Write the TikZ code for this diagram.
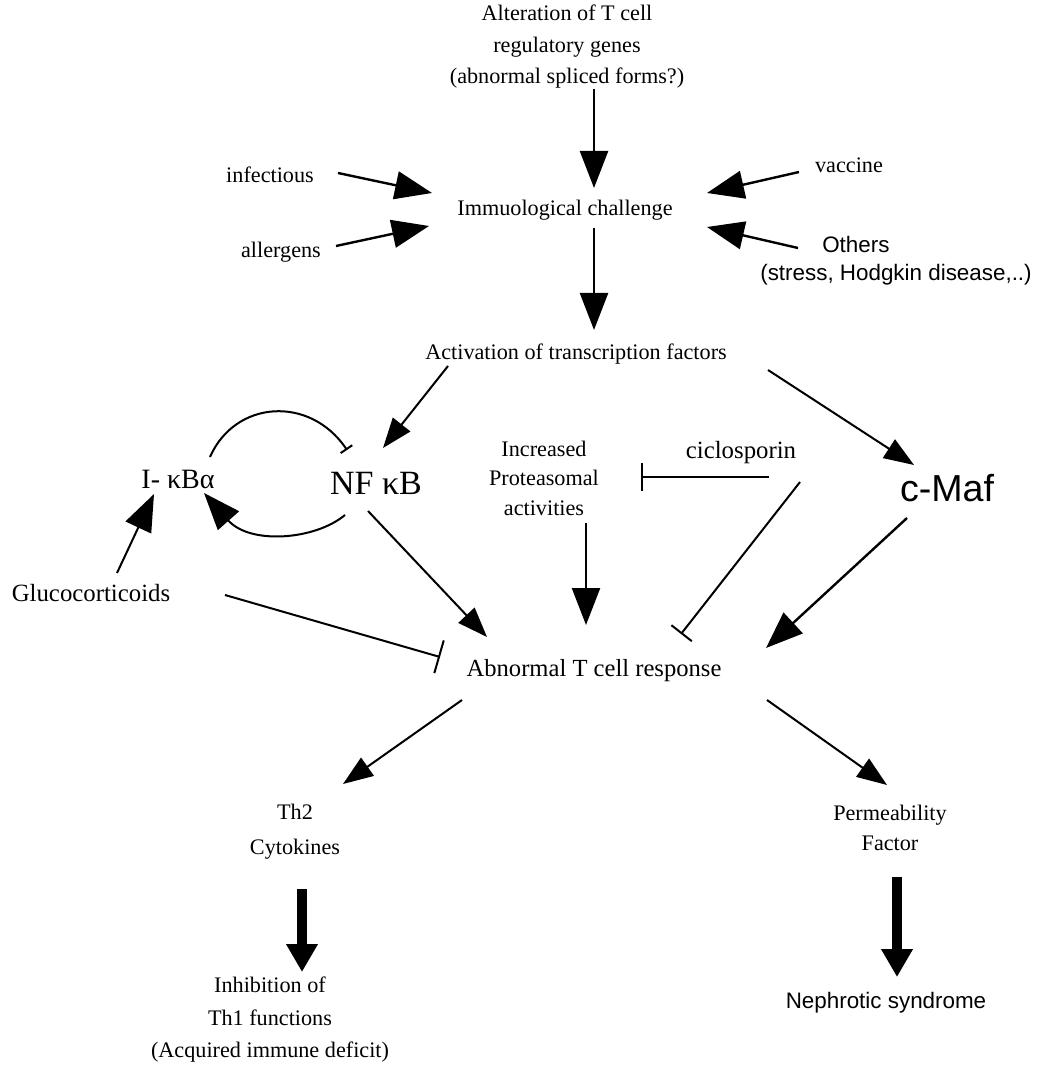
\documentclass[tikz,border=0pt]{standalone}
\usepackage{fontspec}
\setmainfont{Liberation Serif}
\setsansfont{Liberation Sans}
\usetikzlibrary{arrows.meta}

\begin{document}
\begin{tikzpicture}[x=0.5pt, y=-0.5pt,
    txt/.style={font=\fontsize{11.1}{15.75}\selectfont, align=center, inner sep=1pt},
    arr/.style={line width=1.2pt, -{Triangle[length=18.5pt,width=14pt]}},
    arrs/.style={line width=1pt, -{Triangle[length=15pt,width=11pt]}},
    inh/.style={line width=1pt, -{Bar[width=#1]}},
    fat/.style={line width=4.8pt, -{Triangle[length=14pt,width=15pt]}}]
    \useasboundingbox (0,0) rectangle (1048,1068);
    % labels, placed at pixel positions of the figure
    \node[txt] (alter) at (567,47) {Alteration of T cell\\regulatory genes\\(abnormal spliced forms?)};
    \node[txt] (immuno) at (565,210) {Immuological challenge};
    \node[txt] (infect) at (270,175) {infectious};
    \node[txt] (allerg) at (281,252) {allergens};
    \node[txt] (vacc) at (849,165) {vaccine};
    \node[txt, font=\sffamily\fontsize{11.2}{14}\selectfont, align=left] (others) at (896,261) {\hspace*{31pt}Others\\(stress, Hodgkin disease,..)};
    \node[txt] (activ) at (576,354) {Activation of transcription factors};
    \node[txt, font=\fontsize{17}{20}\selectfont] (nfkb) at (376,483) {NF κB};
    \node[txt, font=\fontsize{14}{17}\selectfont] (ikba) at (178,479) {I- κBα};
    \node[txt, font=\fontsize{11.1}{14.75}\selectfont] (incr) at (544,478) {Increased\\Proteasomal\\activities};
    \node[txt, font=\fontsize{12.4}{15}\selectfont] (ciclo) at (741,453) {ciclosporin};
    \node[txt, font=\sffamily\fontsize{18.8}{22}\selectfont] (cmaf) at (947,488) {c-Maf};
    \node[txt, font=\fontsize{12.4}{15}\selectfont] (gluco) at (91,593) {Glucocorticoids};
    \node[txt, font=\fontsize{12.3}{15}\selectfont] (abn) at (594,671) {Abnormal T cell response};
    \node[txt, font=\fontsize{11.1}{17.5}\selectfont] (th2) at (295,832) {Th2\\Cytokines};
    \node[txt, font=\fontsize{11.1}{15}\selectfont] (perm) at (890,828) {Permeability\\Factor};
    \node[txt, font=\fontsize{11.1}{16.25}\selectfont] (inhib) at (270,1020) {Inhibition of\\Th1 functions\\(Acquired immune deficit)};
    \node[txt, font=\sffamily\fontsize{11.2}{14}\selectfont] (neph) at (886,1003) {Nephrotic syndrome};

    \draw[arr] ([shift={(27,42)}]alter.center) -- ([shift={(29,-22)}]immuno.center);
    \draw[arr] ([shift={(29,18)}]immuno.center) -- ([shift={(18,-24)}]activ.center);
    \draw[arr] ([shift={(68,-2)}]infect.center) -- ([shift={(-133,-17)}]immuno.center);
    \draw[arr] ([shift={(55,-6)}]allerg.center) -- ([shift={(-136,16)}]immuno.center);
    \draw[arr] ([shift={(-50,7)}]vacc.center) -- ([shift={(142,-17)}]immuno.center);
    \draw[arr] ([shift={(-98,-13)}]others.center) -- ([shift={(142,17)}]immuno.center);
    \draw[arrs] ([shift={(-128,12)}]activ.center) -- ([shift={(7,-35)}]nfkb.center);
    \draw[arrs] ([shift={(192,16)}]activ.center) -- ([shift={(-33,-23)}]cmaf.center);
    \draw[inh=7pt] ([shift={(32,-22)}]ikba.center) .. controls ([shift={(57,-79)}]ikba.center) and ([shift={(-66,-88)}]nfkb.center) .. ([shift={(-29,-33)}]nfkb.center);
    \draw[arr, line width=1pt] ([shift={(-31,32)}]nfkb.center) .. controls ([shift={(-61,57)}]nfkb.center) and ([shift={(72,66)}]ikba.center) .. ([shift={(26,14)}]ikba.center);
    \draw[arr, line width=1pt] ([shift={(26,-20)}]gluco.center) -- ([shift={(-24,15)}]ikba.center);
    \draw[arrs] ([shift={(-8,28)}]nfkb.center) -- ([shift={(-107,-34)}]abn.center);
    \draw[arr] ([shift={(42,45)}]incr.center) -- ([shift={(-8,-46)}]abn.center);
    \draw[inh=14pt] ([shift={(28,24)}]ciclo.center) -- ([shift={(97,-1)}]incr.center);
    \draw[inh=13pt] ([shift={(59,29)}]ciclo.center) -- ([shift={(87,-37)}]abn.center);
    \draw[arr] ([shift={(-40,30)}]cmaf.center) -- ([shift={(172,-23)}]abn.center);
    \draw[inh=17pt] ([shift={(134,2)}]gluco.center) -- ([shift={(-154,-14)}]abn.center);
    \draw[arrs] ([shift={(-132,29)}]abn.center) -- ([shift={(48,-48)}]th2.center);
    \draw[arrs] ([shift={(173,29)}]abn.center) -- ([shift={(-3,-43)}]perm.center);
    \draw[fat] ([shift={(7,57)}]th2.center) -- ([shift={(32,-48)}]inhib.center);
    \draw[fat] ([shift={(7,49)}]perm.center) -- ([shift={(11,-26)}]neph.center);
\end{tikzpicture}
\end{document}
